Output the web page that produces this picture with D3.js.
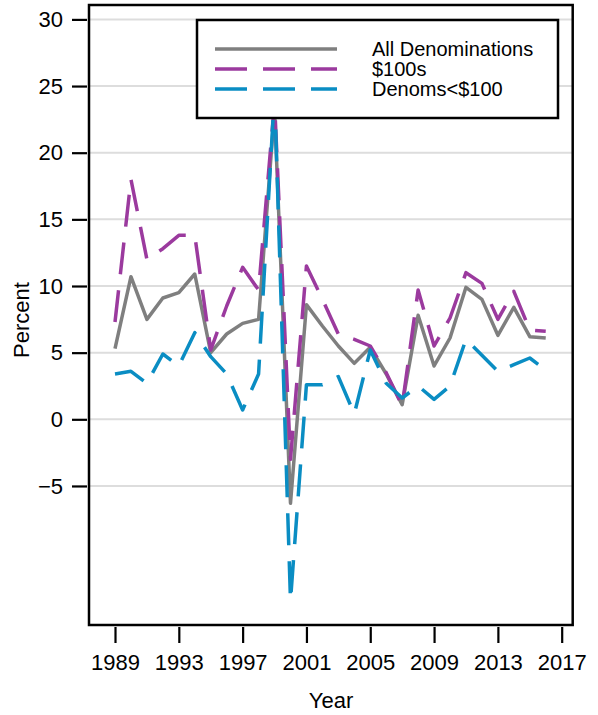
<!DOCTYPE html>
<html><head><meta charset="utf-8">
<script src="https://cdn.jsdelivr.net/npm/d3@7"></script>
<style>
html,body{margin:0;padding:0;background:#fff;}
text{font-family:"Liberation Sans",Arial,Helvetica,sans-serif;fill:#000;}
</style></head>
<body>
<svg id="chart" width="598" height="715"></svg>
<script>
const years = [1989,1990,1991,1992,1993,1994,1995,1996,1997,1998,1999,2000,2001,2002,2003,2004,2005,2006,2007,2008,2009,2010,2011,2012,2013,2014,2015,2016];
const allDenoms = [5.3,10.7,7.5,9.1,9.5,10.9,5.0,6.4,7.2,7.5,23.2,-6.3,8.6,7.0,5.5,4.2,5.4,3.4,1.1,7.8,4.0,6.1,9.9,9.0,6.3,8.4,6.2,6.1];
const hundreds = [7.3,18.0,12.0,12.8,13.8,13.8,5.2,8.5,11.4,9.7,23.8,-3.0,11.5,9.0,6.4,6.0,5.5,3.5,1.0,9.7,5.5,7.6,11.0,10.2,7.5,9.6,6.7,6.6];
const smallDenoms = [3.4,3.6,2.7,4.9,4.0,6.5,4.7,3.4,0.7,3.4,24.5,-13.6,2.6,2.6,3.2,0.4,5.2,2.7,1.6,2.5,1.5,2.5,6.0,4.8,3.6,4.1,4.6,3.7];
const seriesNames = ["All Denominations","$100s","Denoms<$100"];
const xTicks = [1989,1993,1997,2001,2005,2009,2013,2017];
const yTicks = [30,25,20,15,10,5,0,-5];

const colors = ["#7f7f7f","#9b3a9e","#0a8dc3"];
const dashes = [null,"32,16","32,16"];
const seriesData = [allDenoms,hundreds,smallDenoms];

const svg = d3.select("#chart");
const L=89, R=572.7, T=5, B=625;
const x = d3.scaleLinear().domain([1987.37,2017.69]).range([L,R]);
const y = d3.scaleLinear().domain([-15.43,31.08]).range([B,T]);

// grid
svg.append("g").selectAll("line").data(yTicks).join("line")
  .attr("x1",L).attr("x2",R).attr("y1",d=>y(d)).attr("y2",d=>y(d))
  .attr("stroke","#dddddd").attr("stroke-width",2);

// clip
svg.append("clipPath").attr("id","clip").append("rect")
  .attr("x",L).attr("y",T).attr("width",R-L).attr("height",B-T);

const line = d3.line().x((d,i)=>x(years[i])).y(d=>y(d));
const lg = svg.append("g").attr("clip-path","url(#clip)");
seriesData.forEach((s,k)=>{
  lg.append("path").datum(s).attr("d",line)
    .attr("fill","none").attr("stroke",colors[k]).attr("stroke-width",3.5)
    .attr("stroke-linejoin","round").attr("stroke-linecap","butt")
    .attr("stroke-dasharray",dashes[k]);
});

// border
svg.append("rect").attr("x",L).attr("y",T).attr("width",R-L).attr("height",B-T)
  .attr("fill","none").attr("stroke","#000").attr("stroke-width",2.5);

// y axis
const ya = svg.append("g").attr("transform","translate(87,0)")
  .call(d3.axisLeft(y).tickValues(yTicks).tickSize(15).tickSizeOuter(0).tickPadding(9)
    .tickFormat(d=> d<0 ? "\u2212"+Math.abs(d) : String(d)));
ya.select(".domain").remove();
ya.selectAll(".tick line").attr("stroke","#000").attr("stroke-width",2.2);
ya.selectAll(".tick text").style("font-size","22px").style("font-family","'Liberation Sans',Arial,sans-serif").attr("fill","#000");

// x axis
const xa = svg.append("g").attr("transform","translate(0,627)")
  .call(d3.axisBottom(x).tickValues(xTicks).tickSize(16).tickSizeOuter(0).tickPadding(11)
    .tickFormat(d3.format("d")));
xa.select(".domain").remove();
xa.selectAll(".tick line").attr("stroke","#000").attr("stroke-width",2.2);
xa.selectAll(".tick text").style("font-size","22px").style("font-family","'Liberation Sans',Arial,sans-serif").attr("fill","#000");

// axis titles
svg.append("text").attr("x",331).attr("y",708).attr("text-anchor","middle")
  .style("font-size","22px").text("Year");
svg.append("text").attr("transform","translate(29,320) rotate(-90)").attr("text-anchor","middle")
  .style("font-size","22px").text("Percent");

// legend
const leg = svg.append("g");
leg.append("rect").attr("x",197).attr("y",20).attr("width",361).attr("height",98)
  .attr("fill","#fff").attr("stroke","#000").attr("stroke-width",2.5);
seriesNames.forEach((n,k)=>{
  const yy = 49 + k*20;
  leg.append("line").attr("x1",215).attr("x2",337).attr("y1",yy).attr("y2",yy)
    .attr("stroke",colors[k]).attr("stroke-width",3.5).attr("stroke-dasharray",dashes[k]);
  leg.append("text").attr("x",372).attr("y",yy+7).style("font-size","20px").text(n);
});
</script>
</body></html>
